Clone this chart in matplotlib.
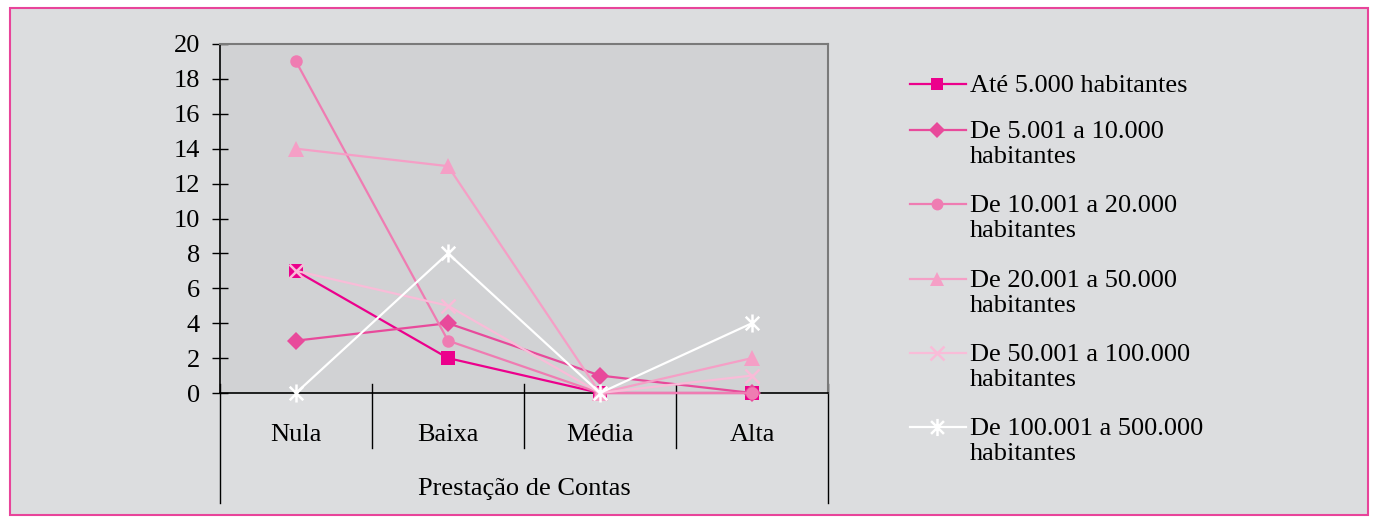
import matplotlib
matplotlib.use("Agg")
import matplotlib.pyplot as plt
from matplotlib.lines import Line2D
from matplotlib.patches import Rectangle
from matplotlib.path import Path

plt.rcParams['font.family'] = ['Liberation Serif', 'DejaVu Serif']

categories = ["Nula", "Baixa", "Média", "Alta"]
axis_title = "Prestação de Contas"
series_names = [
    "Até 5.000 habitantes",
    "De 5.001 a 10.000\nhabitantes",
    "De 10.001 a 20.000\nhabitantes",
    "De 20.001 a 50.000\nhabitantes",
    "De 50.001 a 100.000\nhabitantes",
    "De 100.001 a 500.000\nhabitantes",
]
ate_5000 = [7, 2, 0, 0]
de_5001_10000 = [3, 4, 1, 0]
de_10001_20000 = [19, 3, 0, 0]
de_20001_50000 = [14, 13, 0, 2]
de_50001_100000 = [7, 5, 0, 1]
de_100001_500000 = [0, 8, 0, 4]
y_ticks = [0, 2, 4, 6, 8, 10, 12, 14, 16, 18, 20]

series_values = [ate_5000, de_5001_10000, de_10001_20000,
                 de_20001_50000, de_50001_100000, de_100001_500000]
colors = ["#ec008c", "#e84a9b", "#ef7cb2", "#f59fc6", "#f9bcd8", "#ffffff"]

# asterisk: an X crossed by a vertical bar
star = Path([(0, -1), (0, 1), (-0.75, -0.75), (0.75, 0.75), (-0.75, 0.75), (0.75, -0.75)],
            [Path.MOVETO, Path.LINETO, Path.MOVETO, Path.LINETO, Path.MOVETO, Path.LINETO])
markers = ["s", "D", "o", "^", "x", star]
msizes = [9.5, 9, 9, 11, 10, 13]
stroked = [False, False, False, False, True, True]

FS = 19
W, H = 1375, 525
fig = plt.figure(figsize=(W / 100, H / 100), dpi=100)
fig.patch.set_facecolor("white")

def fx(px):
    return px / W

def fy(py):
    return 1 - py / H

# outer frame
fig.add_artist(Rectangle((fx(10), fy(515)), fx(1368) - fx(10), fy(8) - fy(515),
                         transform=fig.transFigure, facecolor="#dcdddf",
                         edgecolor="#e8449a", linewidth=1.5, zorder=0))

ax = fig.add_axes([fx(220), fy(393), fx(828) - fx(220), fy(44) - fy(393)])
ax.set_facecolor("#d1d2d4")

x = list(range(len(categories)))
for vals, c, m, ms, st in zip(series_values, colors, markers, msizes, stroked):
    ax.plot(x, vals, color=c, linewidth=1.6, marker=m, markersize=ms,
            markerfacecolor=c, markeredgecolor=c, markeredgewidth=1.8 if st else 0,
            clip_on=False, zorder=3)

ax.set_xlim(-0.5, 3.5)
ax.set_ylim(0, 20)
ax.set_yticks(y_ticks)
ax.set_yticklabels([str(v) for v in y_ticks], fontsize=FS)
ax.tick_params(axis="y", direction="inout", length=11, width=1.0, pad=9, color="black")
ax.set_xticks([])

for side in ("left", "bottom"):
    ax.spines[side].set_color("black")
    ax.spines[side].set_linewidth(1.2)
for side in ("top", "right"):
    ax.spines[side].set_color("#7a7a7a")
    ax.spines[side].set_linewidth(1.5)

# category separators below the axis
xt = ax.get_xaxis_transform()
for b in [0.5, 1.5, 2.5]:
    ax.plot([b, b], [0.025, -0.158], transform=xt, color="black", linewidth=1.0, clip_on=False)
for b in [-0.5, 3.5]:
    ax.plot([b, b], [0.025, -0.315], transform=xt, color="black", linewidth=1.0, clip_on=False)

for xi, lab in zip(x, categories):
    ax.text(xi, -0.12, lab, transform=xt, ha="center", va="center", fontsize=FS)
ax.text(1.5, -0.275, axis_title, transform=xt, ha="center", va="center", fontsize=FS)

# legend drawn as handle + text lines
entry_y = [84, 130, 204, 279, 353, 427]
line_step = 25
for name, c, m, ms, st, yy in zip(series_names, colors, markers, msizes, stroked, entry_y):
    fig.add_artist(Line2D([fx(910), fx(966)], [fy(yy), fy(yy)], transform=fig.transFigure,
                          color=c, linewidth=1.6))
    fig.add_artist(Line2D([fx(937)], [fy(yy)], transform=fig.transFigure, color=c,
                          marker=m, markersize=ms * 0.95, markerfacecolor=c,
                          markeredgecolor=c, markeredgewidth=1.8 if st else 0))
    for k, part in enumerate(name.split("\n")):
        fig.text(fx(970), fy(yy + 2 + k * line_step), part, ha="left", va="center",
                 fontsize=FS, transform=fig.transFigure)

fig.savefig("out.png", dpi=100)
